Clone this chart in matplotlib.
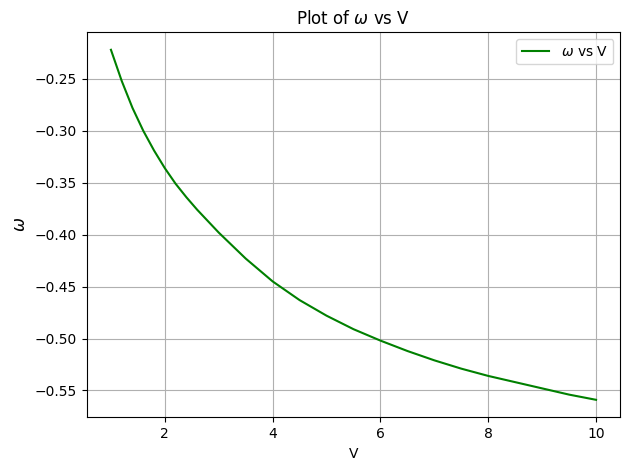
import matplotlib
matplotlib.use("Agg")
import matplotlib.pyplot as plt

V = [1.0, 1.1, 1.2, 1.3, 1.4, 1.5, 1.6, 1.8, 2.0, 2.2, 2.4, 2.6, 2.8, 3.0, 3.5, 4.0, 4.5, 5.0, 5.5,
     6.0, 6.5, 7.0, 7.5, 8.0, 8.5, 9.0, 9.5, 10.0]
omega = [-0.222, -0.237, -0.252, -0.265, -0.278, -0.289, -0.300, -0.319, -0.336, -0.351, -0.364, -0.376,
         -0.387, -0.398, -0.423, -0.445, -0.463, -0.478, -0.491, -0.502, -0.512, -0.521, -0.529, -0.536,
         -0.542, -0.548, -0.554, -0.559]

fig, ax = plt.subplots(figsize=(6.3, 4.7), dpi=100)
ax.plot(V, omega, color="green", label=r"$\omega$ vs V")
ax.set_title(r"Plot of $\omega$ vs V")
ax.set_xlabel("V")
ax.set_ylabel(r"$\omega$", fontsize=12)
ax.grid(True)
ax.legend(loc="upper right")
fig.subplots_adjust(left=0.1376, right=0.9846, top=0.9313, bottom=0.1121)
fig.savefig("out.png")
